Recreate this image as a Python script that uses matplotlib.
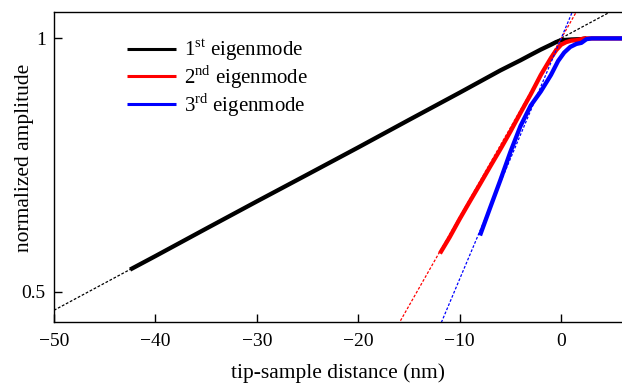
"""
Amplitude vs tip-sample distance for the first three eigenmodes
"""

import matplotlib
matplotlib.use('Agg')
import matplotlib.pyplot as plt
from matplotlib.ticker import NullLocator

plt.rcParams['font.family'] = ['Liberation Serif', 'DejaVu Serif']
plt.rcParams['mathtext.fontset'] = 'custom'
plt.rcParams['mathtext.rm'] = 'Liberation Serif'
plt.rcParams['font.size'] = 14

# measured curves (distance in nm, normalized amplitude)
x_mode1 = [-42.5, -40, -35, -30, -25, -20, -15, -10, -6, -4, -3, -2, -1, -0.5, 0, 0.5, 1, 2, 2.5]
y_mode1 = [0.531, 0.551, 0.594, 0.640, 0.689, 0.742, 0.800, 0.862, 0.916, 0.942, 0.956, 0.970, 0.983,
           0.990, 0.995, 0.996, 0.997, 0.998, 1.0]

x_mode2 = [-11.95, -11, -10, -9, -8, -7, -6, -5, -4, -3, -2, -1, -0.5, 0, 0.5, 1, 1.5, 2, 2.3, 6]
y_mode2 = [0.555, 0.580, 0.610, 0.640, 0.671, 0.704, 0.738, 0.775, 0.816, 0.858, 0.905, 0.948,
           0.968, 0.983, 0.990, 0.994, 0.995, 0.998, 1.0, 1.0]

x_mode3 = [-8.0, -7.0, -6.0, -5.0, -4.0, -3.0, -2.0, -1.0, -0.3, 0.3, 0.9, 1.5, 2.0, 2.5, 3, 6]
y_mode3 = [0.583, 0.629, 0.678, 0.733, 0.787, 0.832, 0.865, 0.905, 0.940, 0.962, 0.977, 0.985,
           0.988, 0.998, 1.0, 1.0]

# linear fits (end points)
x_fit1 = [-50, 6]
y_fit1 = [0.475, 1.094]
x_fit2 = [-16.5, 2]
y_fit2 = [0.447, 1.102]
x_fit3 = [-12.5, 1.5]
y_fit3 = [0.439, 1.104]

xticks = [-50, -40, -30, -20, -10, 0]
yticks = [0.5, 1]
yticklabels = ['0.5', '1']

fig = plt.figure(figsize=(6.22, 3.86), dpi=100)
ax = fig.add_axes([54/622, 1 - 322/386, 1 - 54/622, 310/386])

ax.plot(x_mode1, y_mode1, color='black', lw=3.1, solid_capstyle='butt', label=r'1$^{\mathrm{st}}$ eigenmode')
ax.plot(x_mode2, y_mode2, color='#ff0000', lw=3.1, solid_capstyle='butt', label=r'2$^{\mathrm{nd}}$ eigenmode')
ax.plot(x_mode3, y_mode3, color='#0000ff', lw=3.1, solid_capstyle='butt', label=r'3$^{\mathrm{rd}}$ eigenmode')

dots = (0, (2.2, 1.4))
ax.plot(x_fit1, y_fit1, color='black', lw=0.9, ls=dots)
ax.plot(x_fit2, y_fit2, color='#ff0000', lw=0.9, ls=dots)
ax.plot(x_fit3, y_fit3, color='#0000ff', lw=0.9, ls=dots)

ax.set_yscale('log')
ax.set_xlim(-50, 6)
ax.set_ylim(0.46, 1.075)
ax.set_xticks(xticks)
ax.set_yticks(yticks)
ax.set_yticklabels(yticklabels)
ax.yaxis.set_minor_locator(NullLocator())
ax.tick_params(direction='in', length=6, width=1, labelsize=14)
ax.tick_params(axis='x', pad=8)
ax.tick_params(axis='y', pad=6)
ax.spines['right'].set_visible(False)
for s in ['left', 'bottom', 'top']:
    ax.spines[s].set_linewidth(1.0)

ax.set_xlabel('tip-sample distance (nm)', fontsize=15.5)
ax.set_ylabel('normalized amplitude', fontsize=15.5)
ax.xaxis.set_label_coords(0.5, -0.133)
ax.yaxis.set_label_coords(-0.036, 0.53)

leg = ax.legend(loc='upper left', bbox_to_anchor=(0.114, 0.945), frameon=False, handlelength=2.35,
                handletextpad=0.4, labelspacing=0.0, fontsize=15, borderaxespad=0)
for h in leg.get_lines():
    h.set_linewidth(2.2)

fig.savefig('out.png', dpi=100)
